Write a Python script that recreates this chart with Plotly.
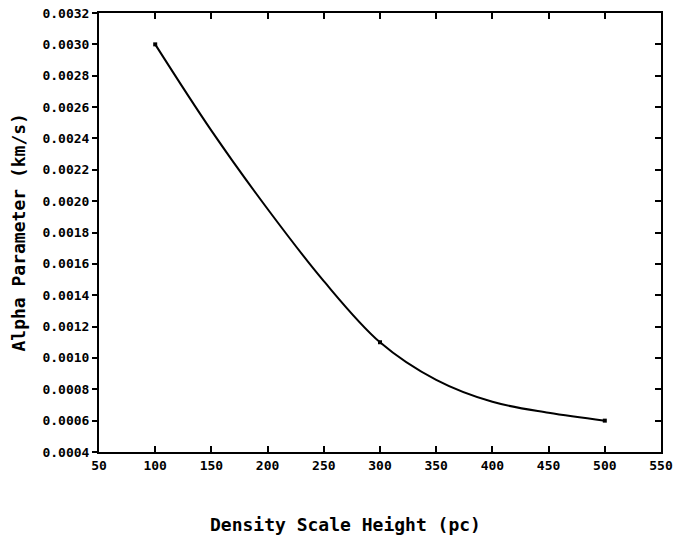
import plotly.graph_objects as go

# Data
point_x = [100, 300, 500]
point_y = [0.0030, 0.0011, 0.0006]

curve_x = [100, 150, 200, 250, 300, 350, 400, 450, 500]
curve_y = [0.0030, 0.00245, 0.00195, 0.00149, 0.0011, 0.00086, 0.00072, 0.00065, 0.0006]

x_range = [50, 550]
y_range = [0.0004, 0.0032]
x_title = "Density Scale Height (pc)"
y_title = "Alpha Parameter (km/s)"

FONT = "DejaVu Sans Mono"

fig = go.Figure()
fig.add_trace(go.Scatter(x=curve_x, y=curve_y, mode="lines",
                         line=dict(color="black", width=2, shape="spline", smoothing=1.0),
                         showlegend=False, hoverinfo="skip"))
fig.add_trace(go.Scatter(x=point_x, y=point_y, mode="markers",
                         marker=dict(symbol="square", size=4, color="black"),
                         showlegend=False))
fig.add_trace(go.Scatter(x=[None], y=[None], xaxis="x2", yaxis="y2", showlegend=False))

tickfont = dict(family=FONT, size=13, color="black", weight="bold")

fig.update_layout(
    template="none",
    width=674, height=537,
    margin=dict(l=99, r=13, t=13, b=85, autoexpand=False),
    paper_bgcolor="white", plot_bgcolor="white",
    xaxis=dict(range=x_range, dtick=50, tick0=50, ticks="inside", ticklen=6, tickwidth=1.5,
               tickcolor="black", showline=True, linecolor="black", linewidth=2, mirror=True,
               showgrid=False, zeroline=False, tickfont=tickfont, automargin=False,
               ticklabeloverflow="allow"),
    yaxis=dict(range=y_range, dtick=0.0002, tick0=0.0004, ticks="outside", ticklen=5,
               tickwidth=1.5, tickcolor="black", showline=True, linecolor="black",
               linewidth=2, mirror=True, showgrid=False, zeroline=False,
               tickformat=".4f", tickfont=tickfont, automargin=False,
               ticklabeloverflow="allow"),
    xaxis2=dict(range=x_range, dtick=50, tick0=50, overlaying="x", side="top",
                ticks="inside", ticklen=6, tickwidth=1.5, tickcolor="black",
                showticklabels=False, showgrid=False, zeroline=False, showline=False,
                automargin=False),
    yaxis2=dict(range=y_range, dtick=0.0002, tick0=0.0004, overlaying="y", side="right",
                ticks="inside", ticklen=6, tickwidth=1.5, tickcolor="black",
                showticklabels=False, showgrid=False, zeroline=False, showline=False,
                automargin=False),
    annotations=[
        dict(text=x_title, xref="paper", yref="paper", x=(345 - 99) / 562, y=-(524 - 452) / 439,
             xanchor="center", yanchor="middle", showarrow=False,
             font=dict(family=FONT, size=18, color="black", weight="bold")),
        dict(text=y_title, xref="paper", yref="paper", x=-(99 - 18) / 562, y=0.5,
             xanchor="center", yanchor="middle", showarrow=False, textangle=-90,
             font=dict(family=FONT, size=18, color="black", weight="bold")),
    ],
)

fig.write_html("out.html", config={"displayModeBar": False},
               post_script="document.body.style.margin='0';document.body.style.overflow='hidden';")
